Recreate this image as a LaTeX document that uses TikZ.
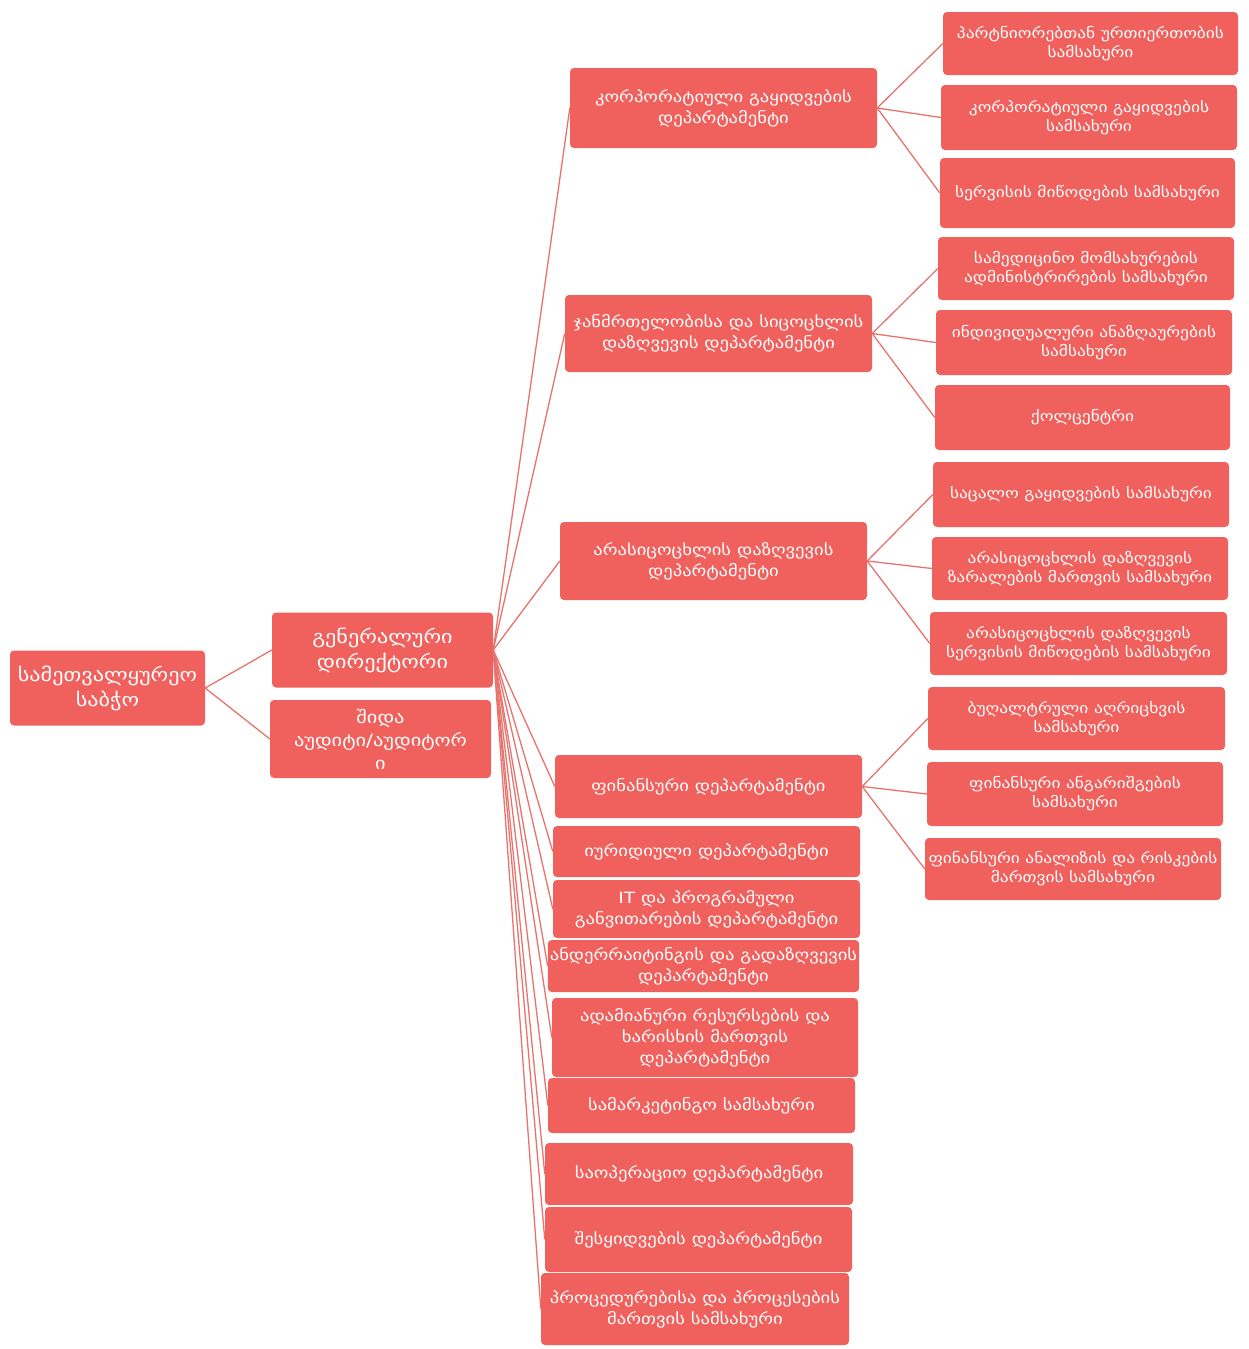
\documentclass[tikz,border=0pt]{standalone}
\usepackage{fontspec}
\newfontfamily\geo[FakeStretch=1.2]{DejaVu Sans}
\definecolor{boxred}{HTML}{F0605C}
\definecolor{linered}{HTML}{E8736C}
\begin{document}
\begin{tikzpicture}[x=1pt,y=-1pt,
  box/.style={rectangle,rounded corners=4pt,fill=boxred,draw=none,text=white,align=center,inner sep=2pt},
  topbox/.style={box,font=\geo\fontsize{18.5}{25}\selectfont},
  depbox/.style={box,minimum width=307,font=\geo\fontsize{15.5}{21}\selectfont},
  srvbox/.style={box,minimum width=296,font=\geo\fontsize{14.5}{19}\selectfont},
  conn/.style={draw=linered,line width=1.3pt}]
\fill[white] (0,0) rectangle (1249,1349);
\useasboundingbox (0,0) rectangle (1249,1349);
% level 0/1
\node[topbox,minimum width=195,minimum height=75] (root) at (107.5,688) {სამეთვალყურეო\\საბჭო};
\node[topbox,minimum width=221,minimum height=75] (gd) at (382.5,650) {გენერალური\\დირექტორი};
\node[topbox,minimum width=221,minimum height=78,font=\geo\fontsize{17}{23}\selectfont] (aud) at (380.5,739) {შიდა\\აუდიტი/აუდიტორ\\ი};
% departments
\node[depbox,minimum height=80] (d1) at (723.5,108) {კორპორატიული გაყიდვების\\დეპარტამენტი};
\node[depbox,minimum height=77] (d2) at (718.5,333.5) {ჯანმრთელობისა და სიცოცხლის\\დაზღვევის დეპარტამენტი};
\node[depbox,minimum height=78] (d3) at (713.5,561) {არასიცოცხლის დაზღვევის\\დეპარტამენტი};
\node[depbox,minimum height=63] (d4) at (708.5,786.5) {ფინანსური დეპარტამენტი};
\node[depbox,minimum height=51] (d5) at (706.5,851.5) {იურიდიული დეპარტამენტი};
\node[depbox,minimum height=58] (d6) at (706.5,909) {IT და პროგრამული\\განვითარების დეპარტამენტი};
\node[depbox,minimum height=52] (d7) at (703.5,966) {ანდერრაიტინგის და გადაზღვევის\\დეპარტამენტი};
\node[depbox,minimum width=306,minimum height=79] (d8) at (705,1037.5) {ადამიანური რესურსების და\\ხარისხის მართვის\\დეპარტამენტი};
\node[depbox,minimum height=55] (d9) at (701.5,1105.5) {სამარკეტინგო სამსახური};
\node[depbox,minimum width=308,minimum height=62] (d10) at (699,1174) {საოპერაციო დეპარტამენტი};
\node[depbox,minimum height=65] (d11) at (698.5,1239.5) {შესყიდვების დეპარტამენტი};
\node[depbox,minimum width=308,minimum height=72] (d12) at (695,1309) {პროცედურებისა და პროცესების\\მართვის სამსახური};
% services
\node[srvbox,minimum width=295,minimum height=63] (s1) at (1090.5,43.5) {პარტნიორებთან ურთიერთობის\\სამსახური};
\node[srvbox,minimum height=65] (s2) at (1089,117.5) {კორპორატიული გაყიდვების\\სამსახური};
\node[srvbox,minimum width=295,minimum height=70] (s3) at (1087.5,193) {სერვისის მიწოდების სამსახური};
\node[srvbox,minimum height=63] (s4) at (1086,268.5) {სამედიცინო მომსახურების\\ადმინისტრირების სამსახური};
\node[srvbox,minimum height=65] (s5) at (1084,342.5) {ინდივიდუალური ანაზღაურების\\სამსახური};
\node[srvbox,minimum width=295,minimum height=65] (s6) at (1082.5,417.5) {ქოლცენტრი};
\node[srvbox,minimum height=65] (s7) at (1081,494.5) {საცალო გაყიდვების სამსახური};
\node[srvbox,minimum height=63] (s8) at (1080,568.5) {არასიცოცხლის დაზღვევის\\ზარალების მართვის სამსახური};
\node[srvbox,minimum width=297,minimum height=63] (s9) at (1078.5,643.5) {არასიცოცხლის დაზღვევის\\სერვისის მიწოდების სამსახური};
\node[srvbox,minimum width=297,minimum height=63] (s10) at (1076.5,718.5) {ბუღალტრული აღრიცხვის\\სამსახური};
\node[srvbox,minimum height=64] (s11) at (1075,794) {ფინანსური ანგარიშგების\\სამსახური};
\node[srvbox,minimum height=62] (s12) at (1073,869) {ფინანსური ანალიზის და რისკების\\მართვის სამსახური};
% connectors
\draw[conn] (root.east) -- (gd.west);
\draw[conn] (root.east) -- (aud.west);
\foreach \d in {d1,d2,d3,d4,d5,d6,d7,d8,d9,d10,d11,d12}
  \draw[conn] (gd.east) -- (\d.west);
\foreach \s in {s1,s2,s3} \draw[conn] (d1.east) -- (\s.west);
\foreach \s in {s4,s5,s6} \draw[conn] (d2.east) -- (\s.west);
\foreach \s in {s7,s8,s9} \draw[conn] (d3.east) -- (\s.west);
\foreach \s in {s10,s11,s12} \draw[conn] (d4.east) -- (\s.west);
\end{tikzpicture}
\end{document}
